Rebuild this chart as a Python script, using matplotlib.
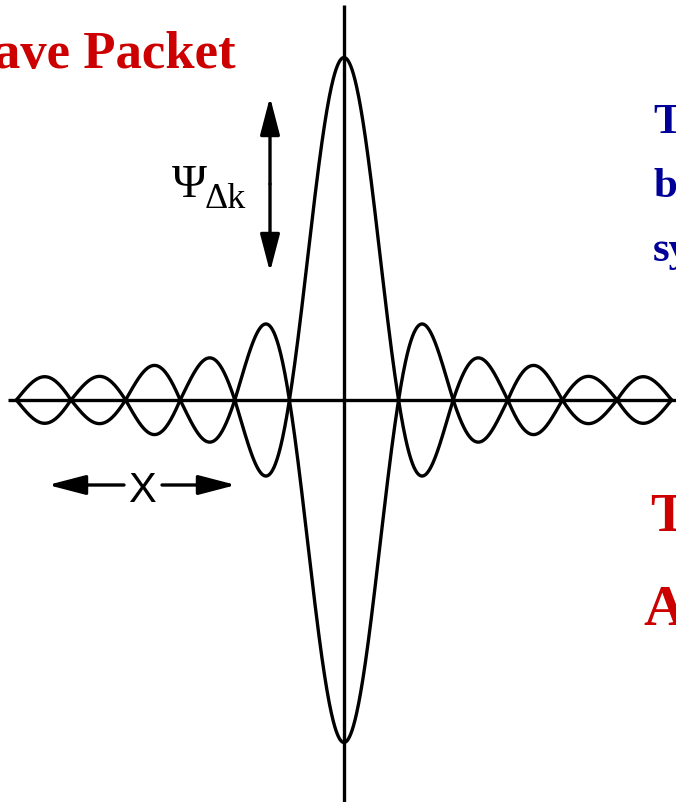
import numpy as np
import matplotlib
matplotlib.use("Agg")
import matplotlib.pyplot as plt
from matplotlib.patches import FancyArrowPatch

# ---- data ----
# lobe index (0 = central lobe), peak amplitude relative to the central peak
lobe_index = [0, 1, 2, 3, 4, 5]
lobe_amplitude = [1.0, 0.222, 0.123, 0.101, 0.069, 0.068]
# zero crossings sit at multiples of pi (x measured in units of pi)
title_text = "Wave Packet"
blue_lines = ["The", "be", "sy"]
red_lines = ["T", "A"]
psi_label = "\u03a8"
psi_sub = "\u0394k"
x_label = "X"

W, H = 676, 803
fig = plt.figure(figsize=(W / 100, H / 100), dpi=100)
ax = fig.add_axes([0, 0, 1, 1])

# pixel geometry of the reference
cx, cy = 344, 401          # origin in pixels
px_per_unit_x = 54.6       # pixels per pi
px_per_unit_y = 342.5      # pixels per unit amplitude
ax.set_xlim(-cx / px_per_unit_x, (W - cx) / px_per_unit_x)
ax.set_ylim(-(H - cy) / px_per_unit_y, cy / px_per_unit_y)
ax.axis("off")

def px(xp, yp):
    return (xp - cx) / px_per_unit_x, (cy - yp) / px_per_unit_y

lw = 2.4
# axes lines
x0, _ = px(8, 0)
ax.plot([x0, 7], [0, 0], color="black", lw=lw, solid_capstyle="butt")
_, ytop = px(0, 6)
ax.plot([0, 0], [ytop, -2], color="black", lw=lw, solid_capstyle="butt")

# lobes: each drawn with the sin(x)/x lobe shape scaled to its read amplitude
for n, amp in zip(lobe_index, lobe_amplitude):
    if n == 0:
        u = np.linspace(-1, 1, 401)
        t = np.pi * u
        safe = np.where(t == 0, 1.0, t)
        shape = np.where(t == 0, 1.0, np.sin(t) / safe)
        for s in (1, -1):
            ax.plot(u, s * amp * shape, color="black", lw=lw)
    else:
        u = np.linspace(n, n + 1, 200)
        t = np.pi * u
        shape = np.abs(np.sin(t) / t)
        shape = shape / shape.max()
        for side in (1, -1):
            for s in (1, -1):
                ax.plot(side * u, s * amp * shape, color="black", lw=lw)

# arrows
def arrow(p1, p2):
    a = FancyArrowPatch(px(*p1), px(*p2), arrowstyle="-|>,head_length=23,head_width=6",
                        mutation_scale=1, shrinkA=0, shrinkB=0, color="black", lw=lw)
    ax.add_patch(a)

arrow((270, 185), (270, 98))
arrow((270, 185), (270, 273))
arrow((124, 486), (48, 486))
arrow((162, 486), (236, 486))

def ftext(xp, yp, s, **kw):
    fig.text(xp / W, 1 - yp / H, s, **kw)

red = "#cc0000"
blue = "#000099"
serif = ["Liberation Serif", "DejaVu Serif"]

ftext(236, 68, title_text, ha="right", va="baseline", fontsize=38,
      fontweight="bold", color=red, family=serif)

for s, yb in zip(blue_lines, [133, 197, 261]):
    ftext(653, yb, s, ha="left", va="baseline", fontsize=31, fontweight="bold",
          color=blue, family=serif)

ftext(650, 531, red_lines[0], ha="left", va="baseline", fontsize=39,
      fontweight="bold", color=red, family=serif)
ftext(643, 625, red_lines[1], ha="left", va="baseline", fontsize=42,
      fontweight="bold", color=red, family=serif)

ftext(172, 197, psi_label, ha="left", va="baseline", fontsize=34,
      color="black", family=serif)
ftext(205, 208, psi_sub, ha="left", va="baseline", fontsize=26,
      color="black", family=serif)

ftext(142, 502, x_label, ha="center", va="baseline", fontsize=30,
      color="black", family=["Liberation Sans", "DejaVu Sans"])

fig.savefig("out.png", dpi=100, facecolor="white")
